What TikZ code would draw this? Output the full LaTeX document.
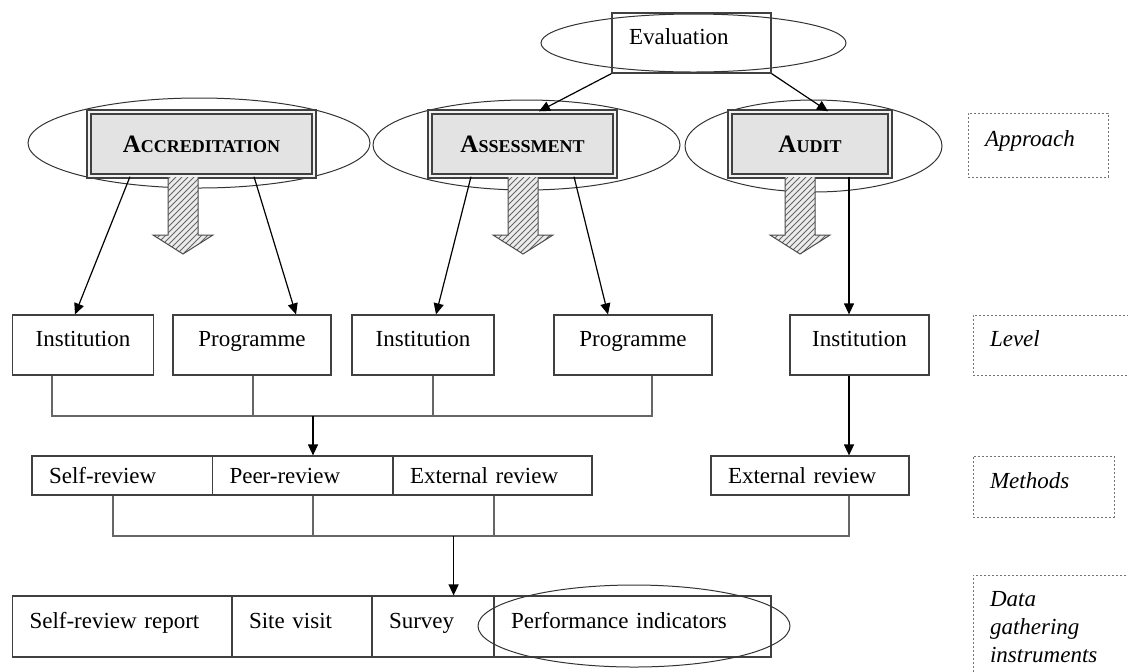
\documentclass[tikz,border=0pt]{standalone}
\usepackage{fontspec}
\setmainfont{Liberation Serif}
\usetikzlibrary{shapes.geometric,arrows.meta,patterns}
\newcommand\capsword[2]{{\fontsize{12.5}{14}\selectfont #1}{\fontsize{9}{11}\selectfont #2}}
\tikzset{
  oval/.style={draw=black!80, ellipse, line width=0.5pt, inner sep=0pt},
  apprbox/.style={draw=black!75, line width=0.7pt, double=gray!10, double distance=1.2pt, fill=gray!22, minimum height=32pt, font=\bfseries},
  rowbox/.style={draw=black!75, line width=0.6pt, align=left, inner xsep=8.5pt, inner ysep=2pt},
  uptext/.style={text height=8.5pt, text depth=6.9pt},
  lvlbox/.style={rowbox, align=center, minimum height=30pt, uptext},
  methbox/.style={rowbox, minimum height=19.5pt},
  databox/.style={rowbox, minimum height=30.5pt, uptext},
  tagbox/.style={draw=black!55, line width=0.5pt, dash pattern=on 1.2pt off 0.8pt, align=left, inner xsep=8.5pt, font=\fontsize{11.5}{14}\selectfont\itshape},
  conn/.style={-{Triangle[length=5.5pt,width=5pt]}, line width=0.6pt},
  bus/.style={draw=black!60, line width=0.6pt},
  hatcharrow/.style={draw=black!70, line width=0.5pt, pattern=north east lines, pattern color=black!60, preaction={fill=gray!15}}
}
\begin{document}
\begin{tikzpicture}[x=0.5pt,y=-0.5pt,font=\fontsize{11.5}{14}\selectfont]
  \useasboundingbox (0,0) rectangle (1128,671);
  \node[oval, minimum width=152.5pt, minimum height=29pt] (evalE) at (693.5,43) {};
  \node[oval, minimum width=171pt, minimum height=45pt] (accE) at (199,143) {};
  \node[oval, minimum width=153.5pt, minimum height=45pt] (assE) at (526.5,145) {};
  \node[oval, minimum width=128.5pt, minimum height=46pt] (audE) at (813.5,146) {};
  \node[rowbox, minimum height=30pt, text width=62.5pt, uptext] (eval) at (691.5,43) {Evaluation};
  \node[apprbox, minimum width=112.5pt] (acc) at (201.5,144) {\capsword{A}{CCREDITATION}};
  \node[apprbox, minimum width=92.5pt] (ass) at (522.5,144) {\capsword{A}{SSESSMENT}};
  \node[apprbox, minimum width=80pt] (aud) at (810,144) {\capsword{A}{UDIT}};
  \foreach \x in {183,523,800}
    \draw[hatcharrow] (\x-15,177) -- (\x-15,235) -- (\x-30,235) -- (\x,254) -- (\x+30,235) -- (\x+15,235) -- (\x+15,177);

  \node[tagbox, minimum height=32pt, text width=53pt, uptext] (tagappr) at (1038,145) {Approach};
  \node[tagbox, minimum height=30pt, text width=63pt, uptext] (taglvl) at (1053,345) {Level};
  \node[tagbox, minimum height=30.5pt, text width=53.5pt, uptext] (tagmeth) at (1043.5,486.5) {Methods};
  \node[tagbox, minimum height=52.5pt, text width=63pt] (tagdata) at (1053,627.5) {Data\\gathering\\instruments};

  \node[lvlbox, minimum width=70.5pt] (i1) at (83,345) {Institution};
  \node[lvlbox, minimum width=79pt] (p1) at (252,345) {Programme};
  \node[lvlbox, minimum width=71pt] (i2) at (423,345) {Institution};
  \node[lvlbox, minimum width=79pt] (p2) at (633,345) {Programme};
  \node[lvlbox, minimum width=69.5pt] (i3) at (859.5,345) {Institution};

  \node[methbox, text width=73.25pt] (m1) at (122.25,475.5) {Self-review};
  \node[methbox, text width=73.25pt] (m2) at (302.75,475.5) {Peer-review};
  \node[methbox, text width=82.5pt] (m3) at (492.5,475.5) {External review};
  \node[methbox, text width=82pt] (m4) at (810,475.5) {External review};

  \node[databox, text width=92.75pt] (d1) at (122.25,626.5) {Self-review report};
  \node[databox, text width=53pt] (d2) at (302,626.5) {Site visit};
  \node[databox, text width=44pt] (d3) at (433,626.5) {Survey};
  \node[databox, text width=121.5pt] (d4) at (632.5,626.5) {Performance indicators};
  \node[oval, minimum width=156pt, minimum height=41pt] (perfE) at (634,626) {};

  \draw[conn] (eval.south west) -- (539,0 |- ass.north);
  \draw[conn] (eval.south east) -- (828,0 |- aud.north);
  \draw[conn] (130,0 |- acc.south) -- (75,0 |- i1.north);
  \draw[conn] (254,0 |- acc.south) -- (296,0 |- p1.north);
  \draw[conn] (471,0 |- ass.south) -- (436,0 |- i2.north);
  \draw[conn] (574,0 |- ass.south) -- (608,0 |- p2.north);
  \draw[conn] (849,0 |- aud.south) -- (849,0 |- i3.north);

  \coordinate (lvljoin) at (313,416);
  \draw[bus] (52,0 |- i1.south) |- (652,0 |- lvljoin) -- (652,0 |- p2.south);
  \draw[bus] (253,0 |- p1.south) -- (253,0 |- lvljoin);
  \draw[bus] (433,0 |- i2.south) -- (433,0 |- lvljoin);
  \draw[conn] (lvljoin) -- (313,0 |- m2.north);
  \draw[conn] (849,0 |- i3.south) -- (849,0 |- m4.north);

  \coordinate (methjoin) at (453.6,536);
  \draw[bus] (113,0 |- m1.south) |- (849,0 |- methjoin) -- (849,0 |- m4.south);
  \draw[bus] (313,0 |- m2.south) -- (313,0 |- methjoin);
  \draw[bus] (494,0 |- m3.south) -- (494,0 |- methjoin);
  \draw[conn] (methjoin) -- (453.6,0 |- d3.north);
\end{tikzpicture}
\end{document}
